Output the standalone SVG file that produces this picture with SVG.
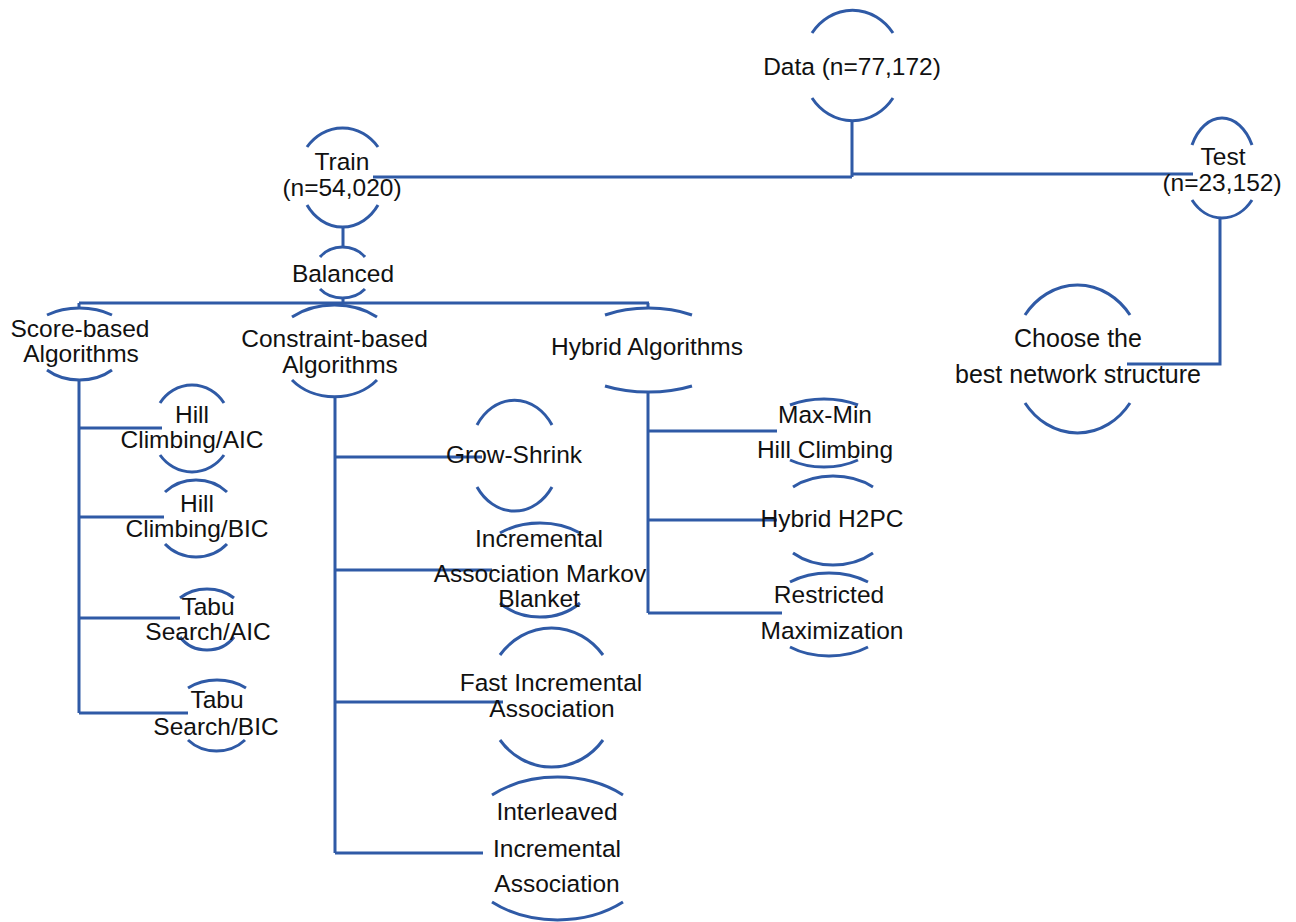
<svg xmlns="http://www.w3.org/2000/svg" width="1296" height="922" viewBox="0 0 1296 922">
<style>
.a{fill:none;stroke:#2f5aa6;stroke-width:3;stroke-linecap:butt}
.c{fill:none;stroke:#2f5aa6;stroke-width:3}
text{font-family:"Liberation Sans",Arial,sans-serif;font-size:24.5px;fill:#111;text-anchor:middle}
</style>
<rect width="1296" height="922" fill="#fff"/>
<g id="connectors">
<path class="c" d="M852,120 V177 M373,177 H852 M852,174 H1193"/>
<path class="c" d="M343,227 V247 M343,298 V303 M79,303 H649 M79,303 V308 M648,303 V307"/>
<path class="c" d="M79,380 V713 M79,428 H162 M79,517 H164 M79,618 H180 M79,713 H188"/>
<path class="c" d="M335,397 V853 M335,457 H482 M335,570 H492 M335,702 H503 M335,853 H483"/>
<path class="c" d="M648,392 V613 M648,431 H777 M648,520 H777 M648,613 H782"/>
<path class="c" d="M1220,218 V364 H1127"/>
</g>
<g id="data">
<path class="a" d="M812,33 A50,55 0 0 1 893,33 M812,98 A50,55 0 0 0 893,98"/>
<text x="852" y="75">Data (n=77,172)</text>
</g>
<g id="train">
<path class="a" d="M307,147 A45,49.5 0 0 1 378,147 M307,205 A42.7,49.5 0 0 0 378,205"/>
<text x="342" y="170">Train</text>
<text x="342" y="196">(n=54,020)</text>
</g>
<g id="test">
<path class="a" d="M1192,145 A33.8,50 0 0 1 1252,145 M1192,200 A39,50 0 0 0 1252,200"/>
<text x="1223" y="165">Test</text>
<text x="1222" y="191">(n=23,152)</text>
</g>
<g id="balanced">
<path class="a" d="M320,257 A28.3,25.5 0 0 1 365,257 M320,289 A29.5,25.5 0 0 0 365,289"/>
<text x="343" y="282">Balanced</text>
</g>
<g id="score">
<path class="a" d="M47,315 A55,36 0 0 1 112,315 M47,370 A47,36 0 0 0 112,370"/>
<text x="80" y="337">Score-based</text>
<text x="81" y="362">Algorithms</text>
</g>
<g id="constraint">
<path class="a" d="M292,317 A63,46 0 0 1 377,317 M292,380 A55,46 0 0 0 377,380"/>
<text x="334.5" y="347">Constraint-based</text>
<text x="340" y="373">Algorithms</text>
</g>
<g id="hybrid">
<path class="a" d="M605,315 A79,42 0 0 1 692,315 M605,386 A84,42 0 0 0 692,386"/>
<text x="647" y="355">Hybrid Algorithms</text>
</g>
<g id="choose">
<path class="a" d="M1025,315 A65.3,74 0 0 1 1130,315 M1025,403 A65.3,74 0 0 0 1130,403"/>
<text x="1078" y="347" style="font-size:25px">Choose the</text>
<text x="1078" y="383" style="font-size:25px">best network structure</text>
</g>
<g id="hc-aic">
<path class="a" d="M160,403 A39.5,43.5 0 0 1 224,403 M160,455 A40.4,43.5 0 0 0 224,455"/>
<text x="192" y="423">Hill</text>
<text x="192" y="448">Climbing/AIC</text>
</g>
<g id="hc-bic">
<path class="a" d="M165,492 A42.7,38.5 0 0 1 227,492 M165,544 A41.4,38.5 0 0 0 227,544"/>
<text x="197" y="512">Hill</text>
<text x="197" y="537">Climbing/BIC</text>
</g>
<g id="tabu-aic">
<path class="a" d="M180,598 A38,30.5 0 0 1 234,598 M180,637 A33,30.5 0 0 0 234,637"/>
<text x="208" y="615">Tabu</text>
<text x="208" y="640">Search/AIC</text>
</g>
<g id="tabu-bic">
<path class="a" d="M188,688 A45.9,35.5 0 0 1 246,688 M188,740 A39.4,35.5 0 0 0 245,740"/>
<text x="217" y="708">Tabu</text>
<text x="216" y="735">Search/BIC</text>
</g>
<g id="grow-shrink">
<path class="a" d="M477,425 A45,55.5 0 0 1 552,425 M477,487 A45.5,55.5 0 0 0 552,487"/>
<text x="514" y="463">Grow-Shrink</text>
</g>
<g id="iamb">
<path class="a" d="M500,533 A64.8,47 0 0 1 580,533 M500,603 A56,47 0 0 0 580,603"/>
<text x="539" y="547">Incremental</text>
<text x="540" y="582">Association Markov</text>
<text x="539" y="607">Blanket</text>
</g>
<g id="fast-iamb">
<path class="a" d="M500,655 A65,69.5 0 0 1 603,655 M500,740 A65,69.5 0 0 0 603,740"/>
<text x="551" y="691">Fast Incremental</text>
<text x="552" y="717">Association</text>
</g>
<g id="inter-iamb">
<path class="a" d="M492,795 A99,71.5 0 0 1 623,795 M492,902 A99,71.5 0 0 0 623,902"/>
<text x="557" y="820">Interleaved</text>
<text x="557" y="857">Incremental</text>
<text x="557" y="892">Association</text>
</g>
<g id="mmhc">
<path class="a" d="M790,405 A60,34 0 0 1 858,405 M790,460 A56,34 0 0 0 858,460"/>
<text x="825" y="423">Max-Min</text>
<text x="825" y="458">Hill Climbing</text>
</g>
<g id="h2pc">
<path class="a" d="M793,487 A61,44.5 0 0 1 873,487 M793,553 A58.6,44.5 0 0 0 873,553"/>
<text x="832" y="527">Hybrid H2PC</text>
</g>
<g id="rsmax">
<path class="a" d="M790,582 A62.7,41.5 0 0 1 868,582 M790,647 A62.7,41.5 0 0 0 868,647"/>
<text x="829" y="603">Restricted</text>
<text x="832" y="639">Maximization</text>
</g>
</svg>
